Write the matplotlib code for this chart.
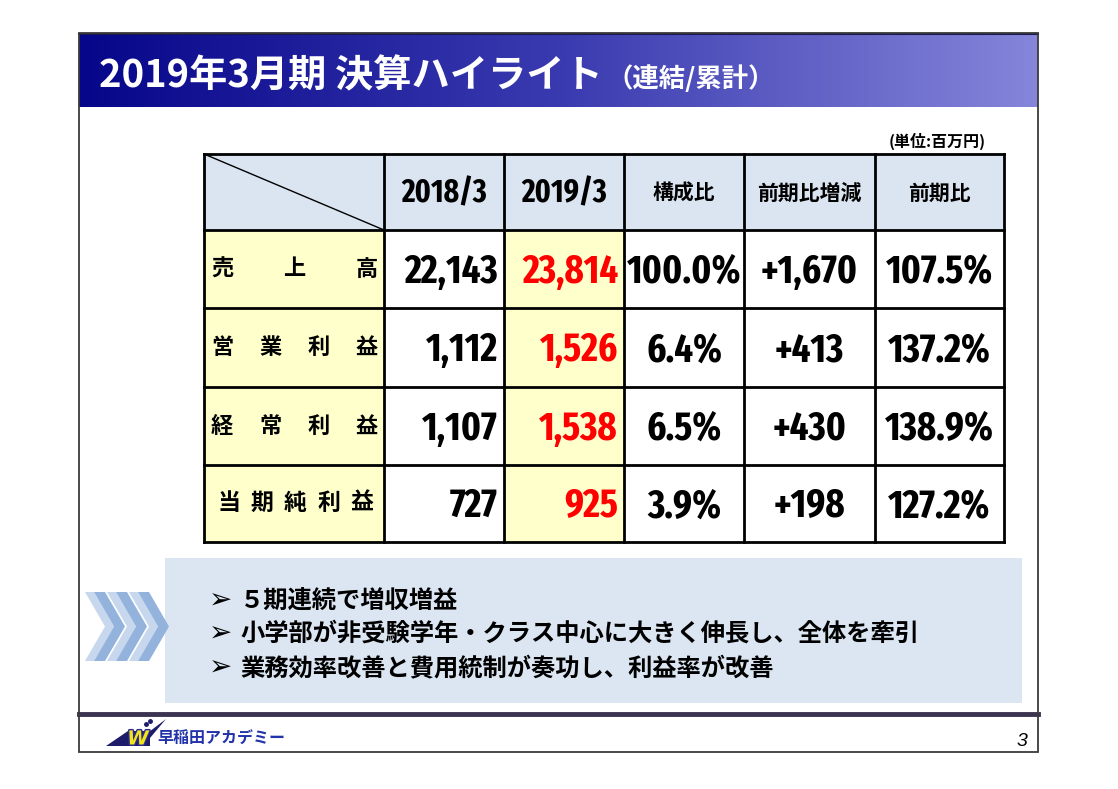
import numpy as np
import matplotlib
matplotlib.use('Agg')
from matplotlib import pyplot as plt
from matplotlib.patches import Rectangle, Polygon
from matplotlib.colors import LinearSegmentedColormap
from matplotlib import font_manager
import matplotlib.patheffects as pe

JP = 'Noto Sans CJK JP'
_names = {f.name for f in font_manager.fontManager.ttflist}
NARROW = 'DejaVu Sans'
for cand in ['Fira Sans Extra Condensed', 'Roboto Condensed', 'PT Sans Narrow']:
    if cand in _names:
        NARROW = cand
        break
plt.rcParams['font.family'] = [JP, 'DejaVu Sans']

# ---- data ----
title_main = '2019年3月期 決算ハイライト'
title_sub = '（連結/累計）'
unit_label = '(単位:百万円)'
col_labels = ['2018/3', '2019/3', '構成比', '前期比増減', '前期比']
row_labels = ['売上高', '営業利益', '経常利益', '当期純利益']
fy2018 = [22143, 1112, 1107, 727]
fy2019 = [23814, 1526, 1538, 925]
share_pct = [100.0, 6.4, 6.5, 3.9]
yoy_diff = [1670, 413, 430, 198]
yoy_pct = [107.5, 137.2, 138.9, 127.2]
bullets = ['５期連続で増収増益',
           '小学部が非受験学年・クラス中心に大きく伸長し、全体を牽引',
           '業務効率改善と費用統制が奏功し、利益率が改善']
logo_text = '早稲田アカデミー'
page_no = '3'

# ---- layout (pixels) ----
W, H = 1118, 789
col_x = [204, 384, 504, 624, 744, 875, 1004]
row_y = [154, 230, 308, 387, 465, 542]
HEAD_BG = '#dbe5f1'
YELLOW = '#ffffcc'
RED = '#ff0000'

fig = plt.figure(figsize=(W / 100, H / 100), dpi=100)
ax = fig.add_axes([0, 0, 1, 1])

# title bar gradient
cmap = LinearSegmentedColormap.from_list('bar', ['#06068a', '#3a3ab0', '#8585da'])
grad = np.linspace(0, 1, 256).reshape(1, -1)
ax.imshow(grad, extent=[79, 1038, 107, 33], aspect='auto', cmap=cmap, zorder=1)
ax.plot([79, 1038], [33.5, 33.5], color='#1a1a50', lw=1.5, zorder=2)

ax.text(99, 76, title_main, color='white', fontsize=27.5, weight='bold',
        family=JP, va='center', ha='left', zorder=3)
ax.text(607, 79, title_sub, color='white', fontsize=19, weight='bold',
        family=JP, va='center', ha='left', zorder=3)

ax.text(986, 141, unit_label, fontsize=11.5, weight='bold', family=JP,
        ha='right', va='center')

# ---- table ----
n_rows = len(row_labels)
n_cols = len(col_labels)
for r in range(n_rows + 1):
    for c in range(n_cols + 1):
        if r == 0:
            fc = HEAD_BG
        elif c == 0 or c == 2:
            fc = YELLOW
        else:
            fc = 'white'
        ax.add_patch(Rectangle((col_x[c], row_y[r]), col_x[c + 1] - col_x[c],
                               row_y[r + 1] - row_y[r], facecolor=fc,
                               edgecolor='none', zorder=1))

for y in row_y:
    ax.plot([col_x[0], col_x[-1]], [y, y], color='black', lw=2, zorder=3,
            solid_capstyle='projecting')
for x in col_x:
    ax.plot([x, x], [row_y[0], row_y[-1]], color='black', lw=2, zorder=3,
            solid_capstyle='projecting')
ax.plot([col_x[0], col_x[1]], [row_y[0], row_y[1]], color='black', lw=1, zorder=3)

hy = (row_y[0] + row_y[1]) / 2 + 1
for c, lab in enumerate(col_labels):
    cx = (col_x[c + 1] + col_x[c + 2]) / 2
    if lab[0].isdigit():
        ax.text(cx, hy + 1, lab, fontsize=23, weight='bold', family=NARROW,
                ha='center', va='center', zorder=4)
    else:
        ax.text(cx, hy, lab, fontsize=15, weight='bold', family=JP,
                ha='center', va='center', zorder=4)

for r, lab in enumerate(row_labels):
    cy = (row_y[r + 1] + row_y[r + 2]) / 2
    if len(lab) == 5:
        xs = np.linspace(229, 362, len(lab))
        fs = 16.5
    else:
        xs = np.linspace(222, 367, len(lab))
        fs = 16
    for ch, x in zip(lab, xs):
        ax.text(x, cy, ch, fontsize=fs, weight='bold', family=JP,
                ha='center', va='center', zorder=4)

cells = [
    [f'{v:,}' for v in fy2018],
    [f'{v:,}' for v in fy2019],
    [f'{v:.1f}%' for v in share_pct],
    [f'+{v:,}' for v in yoy_diff],
    [f'{v:.1f}%' for v in yoy_pct],
]
for c, col in enumerate(cells):
    for r, s in enumerate(col):
        cy = (row_y[r + 1] + row_y[r + 2]) / 2 + 3
        color = RED if c == 1 else 'black'
        if c < 2:
            ax.text(col_x[c + 2] - 6, cy, s, fontsize=28.5, weight='bold',
                    family=NARROW, ha='right', va='center', color=color, zorder=4)
        else:
            cx = (col_x[c + 1] + col_x[c + 2]) / 2
            ax.text(cx, cy, s, fontsize=28.5, weight='bold', family=NARROW,
                    ha='center', va='center', color=color, zorder=4)

# ---- summary box ----
ax.add_patch(Rectangle((165, 558), 857, 145, facecolor='#dce6f2',
                       edgecolor='none', zorder=1))


def chevron(x0, w, d, yt, yb):
    ym = (yt + yb) / 2
    return [(x0, yt), (x0 + w, yt), (x0 + w + d, ym), (x0 + w, yb),
            (x0, yb), (x0 + d, ym)]


for k in range(3):
    x0 = 85 + 22 * k
    ax.add_patch(Polygon(chevron(x0, 9, 20, 592, 661), closed=True,
                         facecolor='#c6d7ee', edgecolor='none', zorder=2))
    ax.add_patch(Polygon(chevron(x0 + 9, 11, 20, 592, 661), closed=True,
                         facecolor='#93b3dc', edgecolor='none', zorder=2))

line_y = [601, 634, 668]
for y, txt in zip(line_y, bullets):
    ax.text(209, y, '\u27a2', fontsize=20, family='DejaVu Sans', ha='left',
            va='center', zorder=3)
    ax.text(240, y, txt, fontsize=17.5, weight='bold', family=JP,
            ha='left', va='center', zorder=3)

# ---- footer ----
ax.plot([79, 1038], [714, 714], color='#3b3350', lw=3.5, zorder=3)
ax.add_patch(Rectangle((79, 33), 959, 719, fill=False, edgecolor='#3a3a3a',
                       lw=1.3, zorder=5))

ax.add_patch(Polygon([(106, 746), (128, 731), (150, 731), (150, 746)],
                     closed=True, facecolor='#1c1c6a', edgecolor='none', zorder=3))
ax.add_patch(Polygon([(145, 735), (166, 719), (150, 738)], closed=True,
                     facecolor='#1c1c6a', edgecolor='none', zorder=3))
ax.plot([146, 150], [724, 721], 'o', color='#1c1c6a', ms=2.5, zorder=4)
ax.text(138, 739, 'W', fontsize=14, weight='bold', style='italic',
        family='DejaVu Sans', color='#f2e31c', ha='center', va='center', zorder=4,
        path_effects=[pe.withStroke(linewidth=2, foreground='#2a2a90')])
ax.text(157, 739, logo_text, fontsize=11.5, weight='bold', family=JP,
        color='#2233aa', ha='left', va='center', zorder=4)

ax.text(1027, 741, page_no, fontsize=14, style='italic',
        family='Liberation Sans', ha='right', va='center', zorder=4)

ax.set_xlim(0, W)
ax.set_ylim(H, 0)
ax.axis('off')
fig.savefig('out.png', dpi=100, facecolor='white')
